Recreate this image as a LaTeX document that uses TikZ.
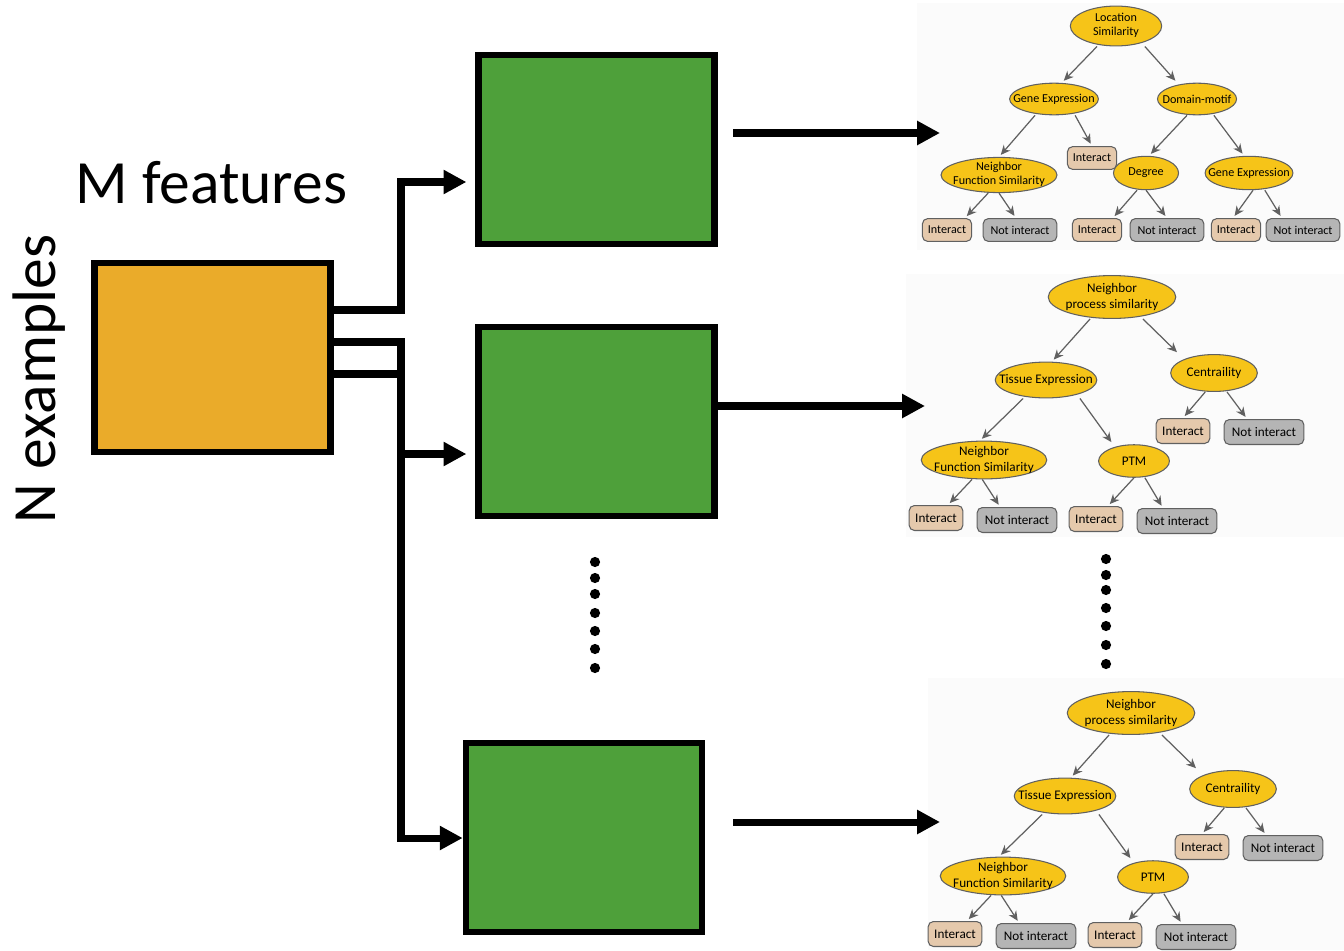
\documentclass[tikz,border=0pt]{standalone}
\usepackage{fontspec}
\setmainfont{Carlito}
\usetikzlibrary{arrows.meta,shapes.geometric}

\definecolor{boxorange}{RGB}{234,171,42}
\definecolor{boxgreen}{RGB}{78,160,58}
\definecolor{splitfill}{RGB}{246,196,24}
\definecolor{yesfill}{RGB}{229,201,172}
\definecolor{nofill}{RGB}{181,181,181}
\definecolor{treegray}{RGB}{96,96,96}

\tikzset{
  block/.style={draw, line width=3.8pt, minimum width=4.72cm, minimum height=3.78cm, inner sep=0pt},
  conn/.style={line width=4pt, -{Triangle[length=13pt,width=13pt]}},
  wire/.style={line width=4pt},
  decide/.style={ellipse, draw=treegray, fill=splitfill, line width=0.6pt, inner xsep=-25pt, inner ysep=-6pt},
  leafyes/.style={rectangle, rounded corners=3pt, draw=treegray, fill=yesfill, line width=0.6pt,
    inner sep=0pt, minimum width=28pt, minimum height=13pt},
  leafno/.style={leafyes, fill=nofill, minimum width=42pt},
  tedge/.style={draw=treegray, line width=0.7pt, -{Stealth[length=5.5pt,width=5pt]}, shorten >=1.5pt},
}

\begin{document}
\begin{tikzpicture}[x=0.02cm, y=-0.02cm]
  \useasboundingbox (0,0) rectangle (1344,950);
  \fill[white] (0,0) rectangle (1344,950);
  % light panels behind the trees
  \fill[black!1.5] (917,3) rectangle (1344,250);
  \fill[black!1.5] (906,274) rectangle (1344,537);
  \fill[black!1.5] (928,678) rectangle (1344,950);

  % data and the sampled sets
  \node[block, fill=boxorange] (data) at (212.5,357.5) {};
  \node[block, fill=boxgreen] (g1) at (596.5,149.5) {};
  \node[block, fill=boxgreen] (g2) at (596.5,421.5) {};
  \node[block, fill=boxgreen] (g3) at (584,837.5) {};
  \node[anchor=base, font=\fontsize{35}{42}\selectfont] (mfeat) at (211.5,203) {M features};
  \node[anchor=base, rotate=90, font=\fontsize{35}{42}\selectfont] (nex) at (55,379) {N examples};

  \coordinate (up) at (401,182);
  \coordinate (mid) at (401,454);
  \coordinate (down) at (401,838);
  \draw[conn, shorten >=5pt] (data.east |- 0,310) -| (up) -- (g1.west |- up);
  \draw[conn] (data.east |- 0,342) -| (down) -- (g3.west |- down);
  \draw[wire] (data.east |- 0,374) -- (401,374);
  \draw[conn, shorten >=5pt] (mid) -- (g2.west |- mid);

  % sets to trees
  \coordinate (t1) at (940,133);
  \coordinate (t2) at (925,406);
  \coordinate (t3) at (940,822);
  \draw[conn] (733,133) -- (t1);
  \draw[conn] (g2.east |- t2) -- (t2);
  \draw[conn] (733,822) -- (t3);

  \foreach \y in {562,578,594,613,631,649,668}
    \fill (595,\y) circle (2.9pt);
  \foreach \y in {559,575,590,608,626,645,664}
    \fill (1106,\y) circle (2.9pt);

  % first tree
  \begin{scope}[font=\fontsize{6.9}{8}\selectfont]
    \node[decide, minimum width=52pt, minimum height=22.7pt] (loc) at (1116,26) {\begin{tabular}{c}Location\\ Similarity\end{tabular}};
    \node[decide, minimum width=50.5pt, minimum height=18pt] (ge) at (1054,99) {Gene Expression};
    \node[decide, minimum width=45pt, minimum height=18pt] (dm) at (1197,99) {Domain-motif};
    \node[leafyes] (gei) at (1092,158) {Interact};
    \node[decide, minimum width=66pt, minimum height=20pt] (nfs) at (999,175) {\begin{tabular}{c}Neighbor\\ Function Similarity\end{tabular}};
    \node[decide, minimum width=37pt, minimum height=19pt] (deg) at (1146,173) {Degree};
    \node[decide, minimum width=50pt, minimum height=19pt] (ge2) at (1249,173) {Gene Expression};
    \node[leafyes] (nfsi) at (947,230) {Interact};
    \node[leafno] (nfsn) at (1020,230) {Not interact};
    \node[leafyes] (degi) at (1097,230) {Interact};
    \node[leafno] (degn) at (1167,230) {Not interact};
    \node[leafyes] (ge2i) at (1236,230) {Interact};
    \node[leafno] (ge2n) at (1303,230) {Not interact};
    \draw[tedge] ([xshift=-10.8pt]loc.south) -- ([xshift=4.5pt]ge.north);
    \draw[tedge] ([xshift=16.4pt]loc.south) -- ([xshift=-11.3pt]dm.north);
    \draw[tedge] ([xshift=-10.8pt]ge.south) -- (nfs.north);
    \draw[tedge] ([xshift=12pt]ge.south) -- (gei.north);
    \draw[tedge] ([xshift=-5.7pt]dm.south) -- ([xshift=1.7pt]deg.north);
    \draw[tedge] ([xshift=9.6pt]dm.south) -- ([xshift=-2.8pt]ge2.north);
    \draw[tedge] ([xshift=-6.2pt]nfs.south) -- ([xshift=10.2pt]nfsi.north);
    \draw[tedge] (nfs.south) -- ([xshift=-2.3pt]nfsn.north);
    \draw[tedge] ([xshift=-5.1pt]deg.south) -- ([xshift=9pt]degi.north);
    \draw[tedge] (deg.south) -- (degn.north);
    \draw[tedge] ([xshift=2.3pt]ge2.south) -- ([xshift=-1.7pt]ge2i.north);
    \draw[tedge] ([xshift=9pt]ge2.south) -- ([xshift=-12pt]ge2n.north);
  \end{scope}

  % second and last tree
  \foreach \t/\dx/\dy in {b/0/0, c/19/416} {
  \begin{scope}[shift={(\dx,\dy)}, font=\fontsize{7.5}{9}\selectfont,
      leafyes/.append style={minimum width=30.6pt, minimum height=14.2pt},
      leafno/.append style={minimum width=45.4pt}]
    \node[decide, minimum width=72.6pt, minimum height=24.4pt] (root\t) at (1112,297) {\begin{tabular}{c}Neighbor\\ process similarity\end{tabular}};
    \node[decide, minimum width=57.8pt, minimum height=20.4pt] (tis\t) at (1046,380) {Tissue Expression};
    \node[decide, minimum width=49.3pt, minimum height=21pt] (cen\t) at (1214,373) {Centraility};
    \node[leafyes] (ceni\t) at (1183,431) {Interact};
    \node[leafno] (cenn\t) at (1264,432) {Not interact};
    \node[decide, minimum width=71.4pt, minimum height=21.5pt] (nfs\t) at (984,460) {\begin{tabular}{c}Neighbor\\ Function Similarity\end{tabular}};
    \node[decide, minimum width=40.3pt, minimum height=18.5pt] (ptm\t) at (1134,461) {PTM};
    \node[leafyes] (nfsi\t) at (936,518) {Interact};
    \node[leafno] (nfsn\t) at (1017,520) {Not interact};
    \node[leafyes] (ptmi\t) at (1096,519) {Interact};
    \node[leafno] (ptmn\t) at (1177,521) {Not interact};
    \draw[tedge] ([xshift=-12.5pt]root\t.south) -- ([xshift=3.4pt]tis\t.north);
    \draw[tedge] ([xshift=17.6pt]root\t.south) -- ([xshift=-20pt]cen\t.north);
    \draw[tedge] ([xshift=-5pt]cen\t.south) -- (ceni\t.north);
    \draw[tedge] ([xshift=7.4pt]cen\t.south) -- ([xshift=-9.6pt]cenn\t.north);
    \draw[tedge] ([xshift=-13pt]tis\t.south) -- ([xshift=-2.3pt]nfs\t.north);
    \draw[tedge] ([xshift=19.3pt]tis\t.south) -- ([xshift=-12pt]ptm\t.north);
    \draw[tedge] ([xshift=-6.8pt]nfs\t.south) -- ([xshift=6.8pt]nfsi\t.north);
    \draw[tedge] ([xshift=-1pt]nfs\t.south) -- ([xshift=-9.6pt]nfsn\t.north);
    \draw[tedge] (ptm\t.south) -- ([xshift=6.8pt]ptmi\t.north);
    \draw[tedge] ([xshift=6.2pt]ptm\t.south) -- ([xshift=-8pt]ptmn\t.north);
  \end{scope}
  }
\end{tikzpicture}
\end{document}
